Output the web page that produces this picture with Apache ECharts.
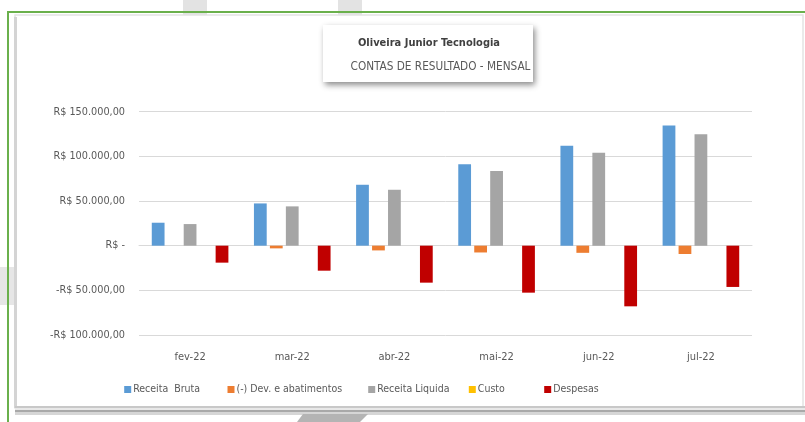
<!DOCTYPE html>
<html>
<head>
<meta charset="utf-8">
<script src="https://cdn.jsdelivr.net/npm/echarts@6/dist/echarts.min.js"></script>
<style>
html,body{margin:0;padding:0;background:#fff;}
#chart{width:805px;height:422px;}
</style>
</head>
<body>
<div id="chart"></div>
<script>
var categories = ['fev-22', 'mar-22', 'abr-22', 'mai-22', 'jun-22', 'jul-22'];
var receitaBruta = [25700, 47300, 68200, 91300, 111900, 134600];
var devAbatimentos = [0, -3000, -5300, -7600, -8000, -9300];
var receitaLiquida = [24200, 44000, 62600, 83500, 104000, 124800];
var custo = [0, 0, 0, 0, 0, 0];
var despesas = [-19000, -28000, -41400, -52600, -67900, -46200];
var seriesNames = ['Receita  Bruta', '(-) Dev. e abatimentos', 'Receita Liquida', 'Custo', 'Despesas'];
var yTicks = { min: -100000, max: 150000, interval: 50000 };

var FONT = "'DejaVu Sans Condensed', 'Liberation Sans Narrow', sans-serif";
var colors = ['#5B9BD5', '#ED7D31', '#A5A5A5', '#FFC000', '#C00000'];
var seriesData = [receitaBruta, devAbatimentos, receitaLiquida, custo, despesas];

function fmt(v) {
  if (v === 0) return 'R$ -';
  var a = Math.abs(v);
  var s = a.toFixed(0).replace(/\B(?=(\d{3})+(?!\d))/g, '.') + ',00';
  return (v < 0 ? '-R$ ' : 'R$ ') + s;
}

var legendLefts = [124.2, 227.5, 368.2, 468.8, 544.2];
var legends = seriesNames.map(function (n, i) {
  return {
    data: [n], left: legendLefts[i], top: 384, padding: 0, itemWidth: 7, itemHeight: 7, itemGap: 0,
    icon: 'rect',
    textStyle: { color: '#595959', fontSize: 10.5, fontFamily: FONT, padding: [0, 0, 0, -3] }
  };
});

var chart = echarts.init(document.getElementById('chart'), null, { renderer: 'canvas' });
chart.setOption({
  animation: false,
  backgroundColor: '#ffffff',
  color: colors,
  graphic: [
    { type: 'rect', z: -10, shape: { x: 183, y: 0, width: 24, height: 15 }, style: { fill: '#e3e3e3' } },
    { type: 'rect', z: -10, shape: { x: 338, y: 0, width: 24, height: 15 }, style: { fill: '#e3e3e3' } },
    { type: 'rect', z: -10, shape: { x: 0, y: 267, width: 15, height: 38 }, style: { fill: '#e6e6e6' } },
    { type: 'rect', z: -9, shape: { x: 15, y: 15, width: 788, height: 393 },
      style: { fill: '#ffffff', stroke: '#e4e4e4', lineWidth: 1.5 } },
    { type: 'rect', z: -9, shape: { x: 14, y: 17, width: 3, height: 391 }, style: { fill: '#d4d4d4' } },
    { type: 'rect', z: -9, shape: { x: 15, y: 406, width: 790, height: 2 }, style: { fill: '#c8c8c8' } },
    { type: 'rect', z: -9, shape: { x: 15, y: 408, width: 790, height: 2 }, style: { fill: '#e8e8e8' } },
    { type: 'rect', z: -9, shape: { x: 15, y: 410, width: 790, height: 2 }, style: { fill: '#a9a9a9' } },
    { type: 'rect', z: -9, shape: { x: 15, y: 412, width: 790, height: 3 }, style: { fill: '#d6d6d6' } },
    { type: 'polygon', z: -8, shape: { points: [[297, 422], [303, 414], [368, 414], [360, 422]] }, style: { fill: '#b4b4b4' } },
    { type: 'rect', z: -5, shape: { x: 8, y: 11, width: 800, height: 2 }, style: { fill: '#6AB04C' } },
    { type: 'rect', z: -5, shape: { x: 7, y: 11, width: 2, height: 411 }, style: { fill: '#6AB04C' } },
    { type: 'rect', z: 0, shape: { x: 323, y: 25, width: 210, height: 57 },
      style: { fill: '#ffffff', shadowBlur: 6, shadowColor: 'rgba(0,0,0,0.45)', shadowOffsetX: 2, shadowOffsetY: 3 } }
  ],
  title: [
    { text: 'Oliveira Junior Tecnologia', left: 424, top: 33, textAlign: 'center', z: 10,
      textStyle: { color: '#404040', fontSize: 11, fontWeight: 'bold', fontFamily: FONT } },
    { text: 'CONTAS DE RESULTADO - MENSAL', left: 435.5, top: 55.5, textAlign: 'center', z: 10,
      textStyle: { color: '#595959', fontSize: 11.7, fontWeight: 'normal', fontFamily: FONT } }
  ],
  legend: legends,
  grid: { left: 139, right: 53, top: 111.7, bottom: 87, containLabel: false },
  xAxis: {
    type: 'category', data: categories,
    axisLine: { show: true, onZero: true, lineStyle: { color: '#d9d9d9', width: 1 } },
    axisTick: { show: false },
    axisLabel: { color: '#595959', fontSize: 11, fontFamily: FONT, margin: 17 },
    position: 'bottom'
  },
  yAxis: {
    type: 'value', min: yTicks.min, max: yTicks.max, interval: yTicks.interval,
    axisLine: { show: false }, axisTick: { show: false },
    splitLine: { lineStyle: { color: '#d9d9d9', width: 1 } },
    axisLabel: { color: '#595959', fontSize: 10.8, fontFamily: FONT, margin: 14, formatter: fmt }
  },
  series: seriesNames.map(function (n, i) {
    return {
      name: n, type: 'bar', data: seriesData[i],
      barGap: '25%', barCategoryGap: '25%',
      itemStyle: { color: colors[i] }
    };
  })
});
</script>
</body>
</html>
